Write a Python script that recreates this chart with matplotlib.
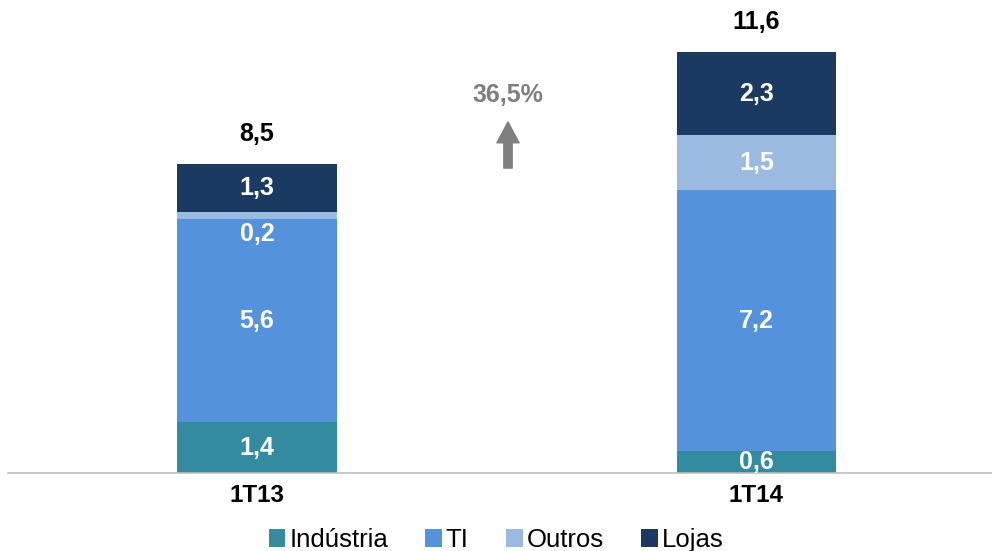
import matplotlib.pyplot as plt
from matplotlib.patches import Patch

plt.rcParams['font.family'] = ['Liberation Sans', 'DejaVu Sans']

# ── Data (R$ mi) ───────────────────────────────
periods   = ["1T13", "1T14"]
series    = ["Indústria", "TI", "Outros", "Lojas"]
industria = [1.4, 0.6]
ti        = [5.6, 7.2]
outros    = [0.2, 1.5]
lojas     = [1.3, 2.3]
totals    = ["8,5", "11,6"]
growth    = "36,5%"

COLORS = {
    "Indústria": "#338BA0",
    "TI":        "#5592DC",
    "Outros":    "#9BBAE0",
    "Lojas":     "#1A3A62",
}

LABEL_FS = 18

W, H, DPI = 992, 551, 100
fig = plt.figure(figsize=(W / DPI, H / DPI), dpi=DPI)
ax = fig.add_axes([8 / W, 78 / H, (W - 8) / W, (H - 78) / H])

x = list(range(len(periods)))
bar_w = 0.32
stack = [industria, ti, outros, lojas]
bottoms = [0.0] * len(periods)

for name, vals in zip(series, stack):
    ax.bar(x, vals, width=bar_w, bottom=bottoms, color=COLORS[name],
           edgecolor="none", zorder=2)
    for i, v in enumerate(vals):
        lbl = f"{v:.1f}".replace(".", ",")
        if v < 0.4:
            # too thin: put the label just under the segment
            yy, va = bottoms[i] - 0.08, "top"
        else:
            yy, va = bottoms[i] + v / 2, "center"
        ax.text(x[i], yy, lbl, ha="center", va=va, color="white",
                fontsize=LABEL_FS, fontweight="bold", zorder=3)
    bottoms = [b + v for b, v in zip(bottoms, vals)]

for i, t in enumerate(totals):
    ax.annotate(t, xy=(x[i], bottoms[i]), xytext=(0, 13),
                textcoords="offset points", ha="center", va="bottom",
                fontsize=LABEL_FS, fontweight="bold", color="black")

# growth arrow between the bars
ax_mid = 0.5025
ax.annotate("", xy=(ax_mid, 9.67), xytext=(ax_mid, 8.40),
            arrowprops=dict(arrowstyle="simple,head_width=0.8,head_length=0.75,tail_width=0.3",
                            color="#7F7F7F", mutation_scale=20, shrinkA=0, shrinkB=0))
ax.text(ax_mid, 10.42, growth, ha="center", va="center", fontsize=LABEL_FS,
        fontweight="bold", color="#7F7F7F")

ax.set_xlim(-0.4985, 1.4715)
ax.set_ylim(0, 13.03)
ax.set_xticks(x)
ax.set_xticklabels(periods, fontsize=17.5, fontweight="bold")
ax.tick_params(axis="x", length=0, pad=8)
ax.set_yticks([])
for s in ("top", "right", "left"):
    ax.spines[s].set_visible(False)
ax.spines["bottom"].set_color("#BFBFBF")
ax.spines["bottom"].set_linewidth(1.2)

handles = [Patch(facecolor=COLORS[s], edgecolor="none", label=s) for s in series]
fig.legend(handles=handles, loc="center", bbox_to_anchor=(496 / W, 1 - 540 / H),
           ncol=4, frameon=False, fontsize=18.5, handlelength=0.65, handleheight=0.65,
           handletextpad=0.15, columnspacing=1.45, borderaxespad=0)

fig.savefig("out.png", dpi=DPI)
